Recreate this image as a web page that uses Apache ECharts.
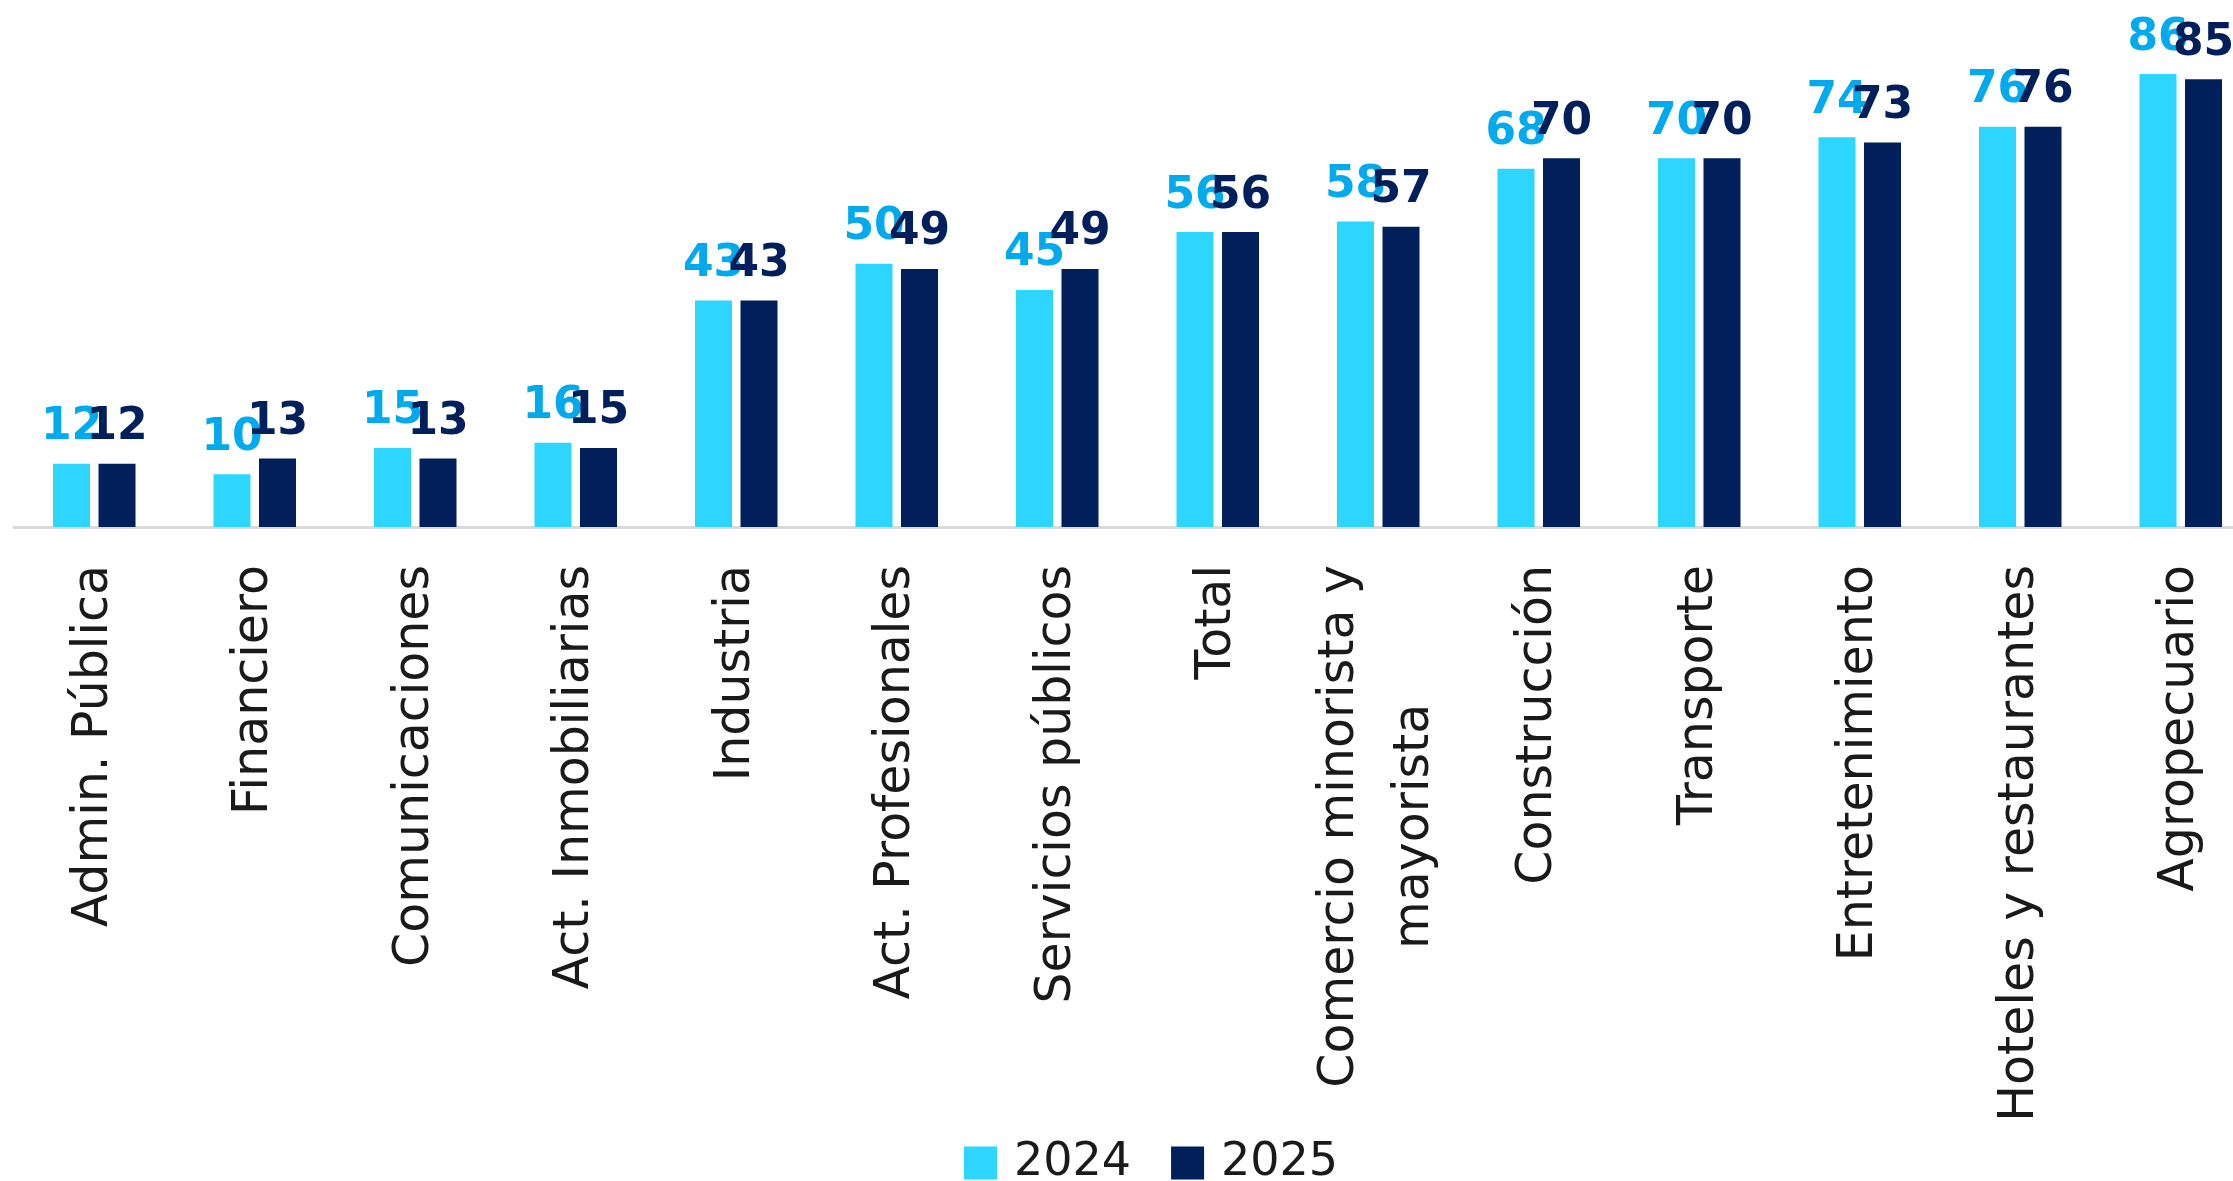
<!DOCTYPE html>
<html><head><meta charset="utf-8">
<script src="https://cdn.jsdelivr.net/npm/echarts@6/dist/echarts.min.js"></script>
<style>html,body{margin:0;padding:0;background:#fff}#c{width:2233px;height:1181px}</style>
</head><body><div id="c"></div>
<script>
const categories = ['Admin. Pública','Financiero','Comunicaciones','Act. Inmobiliarias','Industria','Act. Profesionales','Servicios públicos','Total','Comercio minorista y\nmayorista','Construcción','Transporte','Entretenimiento','Hoteles y restaurantes','Agropecuario'];
const seriesNames = ['2024','2025'];
const values2024 = [12,10,15,16,43,50,45,56,58,68,70,74,76,86];
const values2025 = [12,13,13,15,43,49,49,56,57,70,70,73,76,85];

const chart = echarts.init(document.getElementById('c'));
const FONT = 'DejaVu Sans';
chart.setOption({
  animation: false,
  textStyle: {fontFamily: FONT},
  grid: {left: 14, width: 2247, top: 53, bottom: 654, containLabel: false, outerBoundsMode: 'none'},
  legend: {
    data: seriesNames, left: 959, top: 1135, icon: 'rect', itemWidth: 33, itemHeight: 33,
    itemGap: 40, textStyle: {fontFamily: FONT, fontSize: 46, color: '#1a1a1a', padding: [0,0,0,12]}
  },
  xAxis: {
    type: 'category', data: categories,
    axisLine: {lineStyle: {color: '#d9d9d9', width: 3}},
    axisTick: {show: false},
    axisLabel: {
      interval: 0, rotate: 90, margin: 38, color: '#1a1a1a', fontFamily: FONT, fontSize: 49,
      lineHeight: 75,
      formatter: v => '{c|' + v.split('\n').join('}\n{c|') + '}',
      rich: {c: {align: 'center', fontSize: 49, fontFamily: FONT, color: '#1a1a1a', lineHeight: 75}}
    }
  },
  yAxis: {type: 'value', min: 0, max: 90, show: false, splitLine: {show: false}},
  series: [
    {name: '2024', type: 'bar', data: values2024, barWidth: 37, barGap: '23%',
     itemStyle: {color: '#2dd6ff'},
     label: {show: true, position: 'top', distance: 14, color: '#00aaec', fontWeight: 'bold', fontSize: 44, fontFamily: FONT}},
    {name: '2025', type: 'bar', data: values2025, barWidth: 37,
     itemStyle: {color: '#001f5b'},
     label: {show: true, position: 'top', distance: 14, color: '#001f5b', fontWeight: 'bold', fontSize: 44, fontFamily: FONT}}
  ]
});
</script></body></html>
